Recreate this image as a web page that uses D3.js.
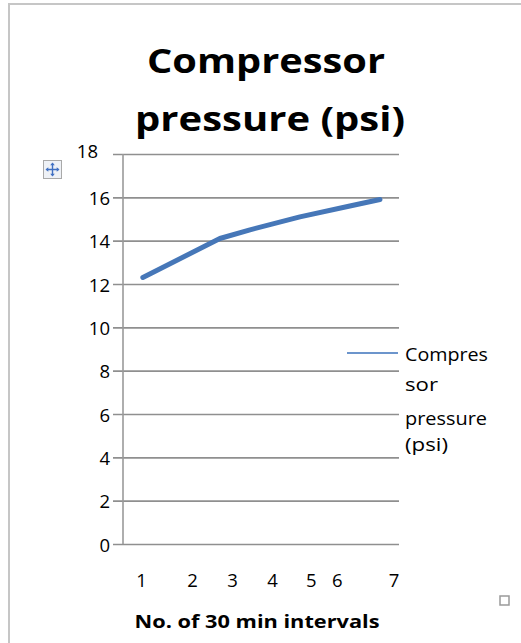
<!DOCTYPE html>
<html>
<head>
<meta charset="utf-8">
<script src="https://cdn.jsdelivr.net/npm/d3@7/dist/d3.min.js"></script>
<style>
  html, body { margin: 0; padding: 0; background: #fff; }
  svg text { font-family: "Open Sans", "Liberation Sans", sans-serif; fill: #000; }
</style>
</head>
<body>
<svg id="chart" width="521" height="643"></svg>
<script>
// chart values
const titleLines = ['Compressor', 'pressure (psi)'];
const xTitle = 'No. of 30 min intervals';
const seriesName = 'Compressor pressure (psi)';
const legendLines = ['Compres', 'sor', 'pressure', '(psi)'];

// x is a position along the interval axis (the labels sit unevenly in the source)
const intervalLabels = ['1', '2', '3', '4', '5', '6', '7'];
const intervalLabelAt = [0.65, 2.5, 3.95, 5.4, 6.8, 7.75, 9.8];
const pressureX = [0.72, 3.51, 4.6, 6.41, 8.22, 9.31];
const pressureY = [12.3, 14.1, 14.5, 15.1, 15.6, 15.9];
const yTicks = [0, 2, 4, 6, 8, 10, 12, 14, 16, 18];

const svg = d3.select('#chart');
const plot = {left: 123, right: 399, top: 154, bottom: 544};

const x = d3.scaleLinear().domain([0, 10]).range([plot.left, plot.right]);
const y = d3.scaleLinear().domain([0, 18]).range([plot.bottom, plot.top]);

// outer frame (only top and left edges show in the crop)
svg.append('path')
  .attr('d', 'M9,643V4H521')
  .attr('fill', 'none')
  .attr('stroke', '#c6c6c6')
  .attr('stroke-width', 2);

// title
svg.append('g').selectAll('text')
  .data(titleLines)
  .enter().append('text')
  .attr('x', (d, i) => i === 0 ? 266 : 270)
  .attr('y', (d, i) => 73 + i * 58)
  .attr('text-anchor', 'middle')
  .attr('font-size', 34)
  .attr('font-weight', 'bold')
  .attr('textLength', (d, i) => i === 0 ? 238 : 270)
  .attr('lengthAdjust', 'spacingAndGlyphs')
  .text(d => d);

// gridlines + y axis
const yAxis = d3.axisLeft(y)
  .tickValues(yTicks)
  .tickSize(-(plot.right - plot.left))
  .tickPadding(13)
  .tickFormat(d3.format('d'));

const gy = svg.append('g')
  .attr('transform', `translate(${plot.left},0)`)
  .call(yAxis);
gy.select('.domain').remove();
gy.selectAll('.tick line')
  .attr('x1', -10)
  .attr('stroke', '#8f8f8f')
  .attr('stroke-width', 1.6);
gy.selectAll('.tick text')
  .attr('font-size', 18.5)
  .attr('fill', '#000')
  .attr('dy', '0.38em');
// the top label sits higher and further left in the source
gy.selectAll('.tick text').filter(d => d === 18)
  .attr('dx', -12)
  .attr('dy', '0.2em');

// vertical axis line
svg.append('line')
  .attr('x1', plot.left).attr('x2', plot.left)
  .attr('y1', plot.top).attr('y2', plot.bottom)
  .attr('stroke', '#9a9a9a')
  .attr('stroke-width', 1.6);

// x labels
const gx = svg.append('g')
  .attr('transform', `translate(0,${plot.bottom})`)
  .call(d3.axisBottom(x)
    .tickValues(intervalLabelAt)
    .tickSize(0)
    .tickPadding(30)
    .tickFormat((d, i) => intervalLabels[i]));
gx.select('.domain').remove();
gx.selectAll('.tick text')
  .attr('font-size', 18.5)
  .attr('fill', '#000');

svg.append('text')
  .attr('x', 257)
  .attr('y', 628)
  .attr('text-anchor', 'middle')
  .attr('font-size', 18)
  .attr('font-weight', 'bold')
  .attr('textLength', 245)
  .attr('lengthAdjust', 'spacingAndGlyphs')
  .text(xTitle);

// series line
const pts = pressureX.map((v, i) => [v, pressureY[i]]);
svg.append('path')
  .datum(pts)
  .attr('fill', 'none')
  .attr('stroke', '#4677b8')
  .attr('stroke-width', 5)
  .attr('stroke-linecap', 'round')
  .attr('stroke-linejoin', 'round')
  .attr('d', d3.line().x(d => x(d[0])).y(d => y(d[1])));

// legend
const lg = svg.append('g').attr('class', 'legend');
lg.append('line')
  .attr('x1', 347).attr('x2', 398)
  .attr('y1', 353).attr('y2', 353)
  .attr('stroke', '#6c95cc')
  .attr('stroke-width', 2);
lg.append('title').text(seriesName);
const legendBase = [361, 391, 425, 451];
const legendLen = [83, 33, 82, 43];
lg.selectAll('text')
  .data(legendLines)
  .enter().append('text')
  .attr('x', 405)
  .attr('y', (d, i) => legendBase[i])
  .attr('font-size', 18)
  .attr('textLength', (d, i) => legendLen[i])
  .attr('lengthAdjust', 'spacingAndGlyphs')
  .text(d => d);

// move handle icon
const icon = svg.append('g').attr('transform', 'translate(43,160)');
icon.append('rect')
  .attr('x', 0.5).attr('y', 0.5)
  .attr('width', 18).attr('height', 18)
  .attr('fill', '#eef1f6')
  .attr('stroke', '#a9a9a9');
icon.append('path')
  .attr('d', 'M9.5,3.5V15.5M3.5,9.5H15.5')
  .attr('stroke', '#3f6fc2')
  .attr('stroke-width', 1.4);
icon.append('path')
  .attr('d', 'M9.5,2.5L7.2,5.3H11.8Z M9.5,16.5L7.2,13.7H11.8Z M2.5,9.5L5.3,7.2V11.8Z M16.5,9.5L13.7,7.2V11.8Z')
  .attr('fill', '#3f6fc2');

// resize handle at bottom right
svg.append('rect')
  .attr('x', 500).attr('y', 596)
  .attr('width', 9).attr('height', 9)
  .attr('fill', '#fff')
  .attr('stroke', '#9a9a9a')
  .attr('stroke-width', 1.5);
</script>
</body>
</html>
